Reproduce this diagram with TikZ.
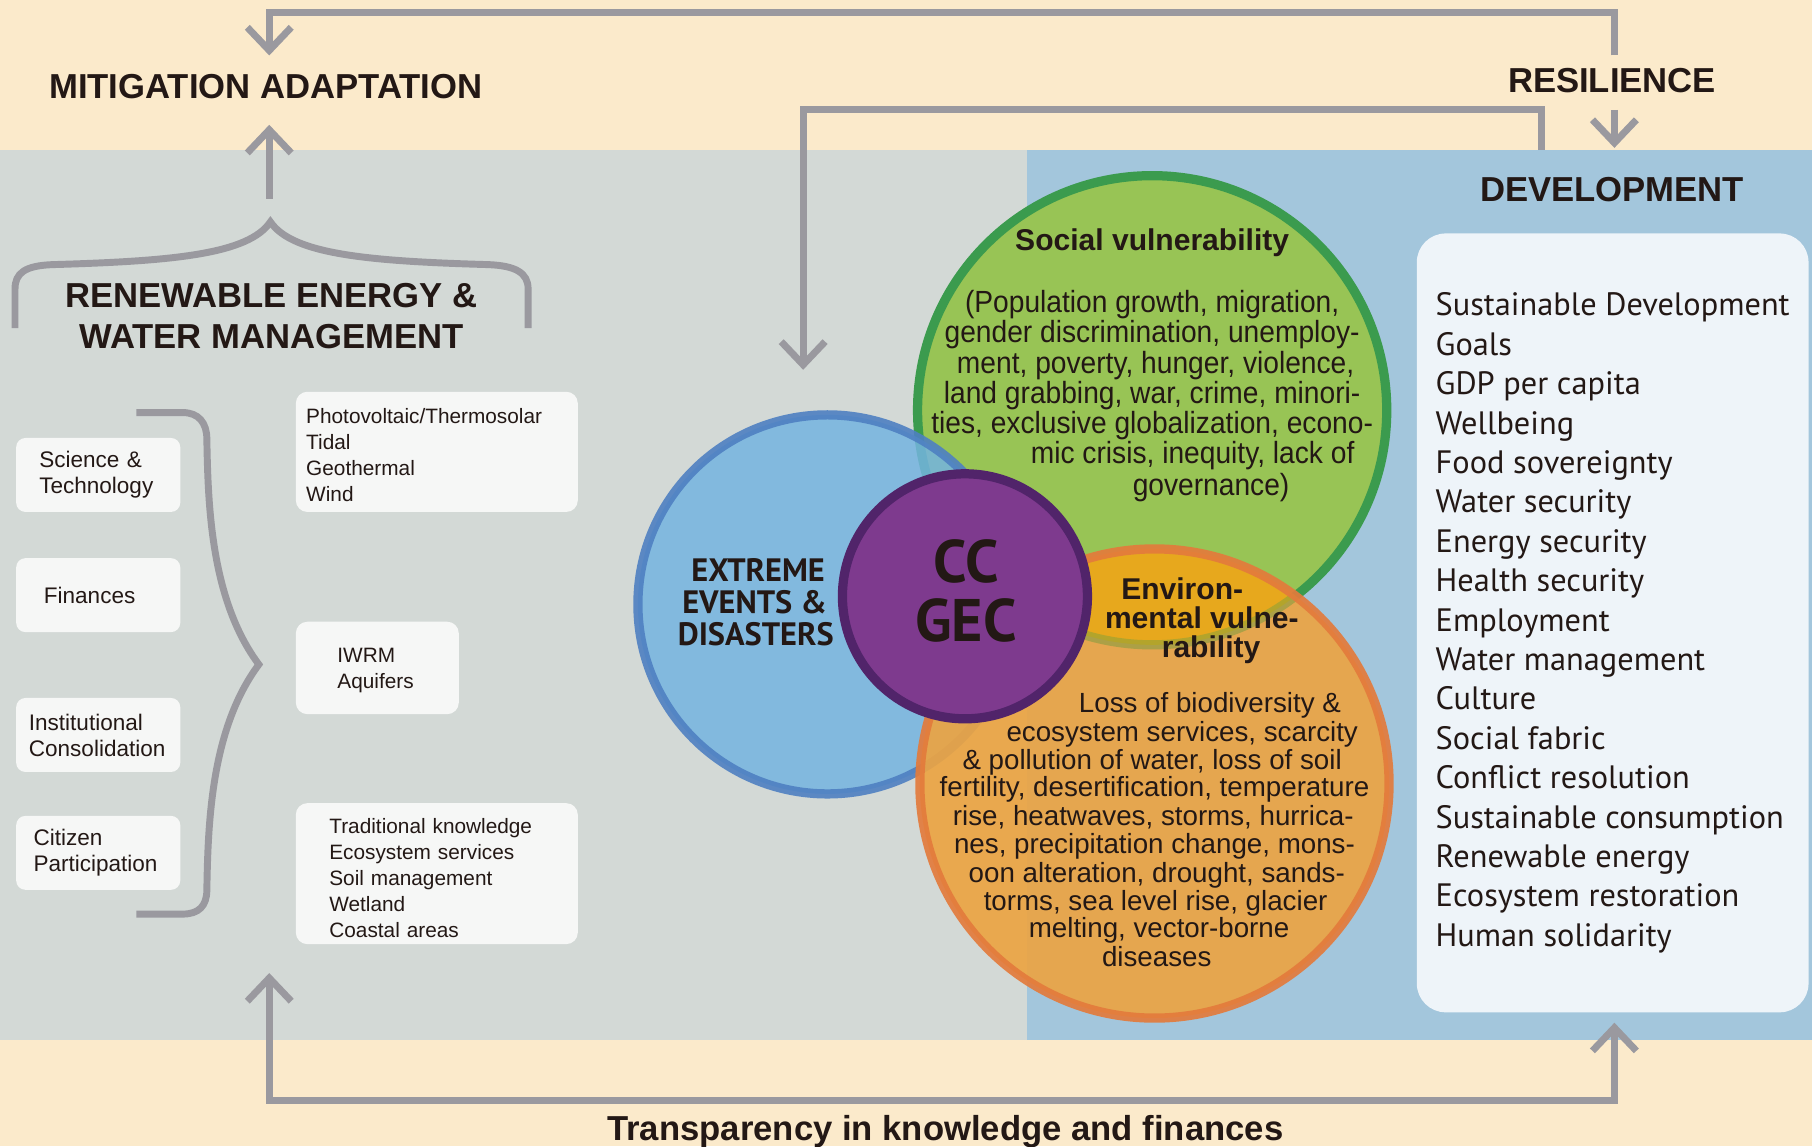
\documentclass[tikz,border=0pt]{standalone}
\usepackage{fontspec}
\setmainfont{Liberation Sans}
\newfontfamily\myr{PT Sans}
\newfontfamily\socf[FakeStretch=0.92]{Liberation Sans}
\usetikzlibrary{arrows.meta}
\definecolor{beige}{HTML}{FBEACB}
\definecolor{graybg}{HTML}{D3D9D6}
\definecolor{bluebg}{HTML}{A3C6DC}
\definecolor{arrowgray}{HTML}{9A999F}
\definecolor{boxfill}{HTML}{F6F7F6}
\definecolor{devfill}{HTML}{EEF4F9}
\definecolor{txt}{HTML}{231815}
\definecolor{cblue}{HTML}{74B4E0}
\definecolor{cblueb}{HTML}{4E80C2}
\definecolor{cgreen}{HTML}{98C455}
\definecolor{cgreenb}{HTML}{3B9B4E}
\definecolor{corange}{HTML}{EBA443}
\definecolor{coranb}{HTML}{E37B3C}
\definecolor{cyellow}{HTML}{E8A91A}
\definecolor{cpurple}{HTML}{7E3A8E}
\definecolor{cpurpleb}{HTML}{51246A}
\begin{document}
\begin{tikzpicture}[x=1pt,y=-1pt,
  >={Straight Barb[length=20pt,width=38pt]},
  every node/.style={text=txt, inner sep=0pt, outer sep=0pt},
  flow/.style={draw=arrowgray, line width=6pt},
  bracepath/.style={draw=arrowgray, line width=6pt},
  circ/.style={circle, line width=8pt, inner sep=0pt, outer sep=0pt},
  ttl/.style={font=\bfseries\fontsize{30}{30}\selectfont, anchor=base},
  lbox/.style={rounded corners=8pt, fill=boxfill, minimum width=142pt, minimum height=64pt, align=left, inner xsep=#1, text width=142pt-2*#1, font=\fontsize{19.5}{22.5}\selectfont},
  mbox/.style 2 args={rounded corners=10pt, fill=boxfill, align=left, minimum width=#2, inner xsep=#1, text width=#2-2*#1, font=\fontsize{18}{22.4}\selectfont},
  devbox/.style={rounded corners=25pt, fill=devfill, minimum width=339pt, minimum height=674pt, align=left, font=\myr\fontsize{28}{34.1}\selectfont},
  socline/.style={anchor=base, font=\socf\fontsize{26.5}{26.5}\selectfont},
  envline/.style={anchor=base, font=\fontsize{24}{24}\selectfont},
  envttl/.style={anchor=base, font=\bfseries\fontsize{26}{26}\selectfont},
  extl/.style={anchor=base, font=\myr\bfseries\fontsize{28}{28}\selectfont},
  ccl/.style={anchor=base, font=\myr\bfseries\fontsize{52}{52}\selectfont}
]
\useasboundingbox (0,0) rectangle (1568,992);
% backgrounds
\fill[beige] (0,0) rectangle (1568,992);
\fill[graybg] (0,130) rectangle (889,900);
\fill[bluebg] (889,130) rectangle (1568,900);

% circles
\node[circ, fill=cgreen, draw=cgreenb, minimum size=406pt] (green) at (997,355) {};
\node[circ, fill=cblue, fill opacity=0.85, draw=cblueb, draw opacity=0.9, minimum size=328pt] (blue) at (716,523) {};
\node[circ, fill=corange, fill opacity=0.92, minimum size=406pt] (orange) at (999,678) {};
\begin{scope}
  \clip (green.center) circle[radius=203pt];
  \fill[cyellow, opacity=0.92] (orange.center) circle[radius=203pt];
\end{scope}
\begin{scope}
  \clip (orange.center) circle[radius=203pt];
  \draw[cgreenb, line width=8pt, opacity=0.3] (green.center) circle[radius=203pt];
\end{scope}
\draw[coranb, line width=8pt, opacity=0.92] (orange.center) circle[radius=203pt];
\node[circ, fill=cpurple, draw=cpurpleb, minimum size=212pt] (cc) at (835,516) {};

% circle texts
\node[envttl] (sv) at (997,217) {Social vulnerability};
\foreach \i/\x/\y/\t in {
  1/997/261/{(Population growth, migration,},
  2/997/287/{gender discrimination, unemploy-},
  3/1000/314/{ment, poverty, hunger, violence,},
  4/997/340/{land grabbing, war, crime, minori-},
  5/997/366/{ties, exclusive globalization, econo-},
  6/1032/392/{mic crisis, inequity, lack of},
  7/1048/419/{governance)}}
  \node[socline] (s\i) at (\x,\y+9.5) {\t};

\node[envttl] (ev1) at (1023,519) {Environ-};
\node[envttl] (ev2) at (1040,544) {mental vulne-};
\node[envttl] (ev3) at (1048,569) {rability};
\foreach \i/\x/\y/\t in {
  1/1047/608/{Loss of biodiversity \&},
  2/1023/633/{ecosystem services, scarcity},
  3/997/657/{\& pollution of water, loss of soil},
  4/999/681/{fertility, desertification, temperature},
  5/998/706/{rise, heatwaves, storms, hurrica-},
  6/999/730/{nes, precipitation change, mons-},
  7/1001/755/{oon alteration, drought, sands-},
  8/1000/779/{torms, sea level rise, glacier},
  9/1003/803/{melting, vector-borne},
  10/1001/828/{diseases}}
  \node[envline] (e\i) at (\x,\y+8.5) {\t};

\node[extl] (x1) at (656,503) {EXTREME};
\node[extl] (x2) at (653,531) {EVENTS \&};
\node[extl] (x3) at (654,559) {DISASTERS};
\node[ccl] (cc1) at (836,504) {CC};
\node[ccl] (cc2) at (836,555) {GEC};

% titles
\node[ttl] (mit) at (230,85) {MITIGATION ADAPTATION};
\node[ttl] (res) at (1395,80) {RESILIENCE};
\node[ttl] (dev) at (1395,174) {DEVELOPMENT};
\node[ttl] (ren1) at (235,266) {RENEWABLE ENERGY \&};
\node[ttl] (ren2) at (235,302) {WATER MANAGEMENT};
\node[ttl] (trans) at (818,987) {Transparency in knowledge and finances};

% left boxes
\node[lbox=20pt] (sci) at (85,411) {Science \&\\Technology};
\node[lbox=24pt] (fin) at (85,515) {Finances};
\node[lbox=11pt] (inst) at (85,636) {Institutional\\Consolidation};
\node[lbox=15pt] (cit) at (85,738) {Citizen\\Participation};

% middle boxes
\node[mbox={9pt}{244pt}, minimum height=104pt] (pv) at (378,391) {\rule{0pt}{19pt}Photovoltaic/Thermosolar\\Tidal\\Geothermal\\Wind};
\node[mbox={36pt}{141pt}, minimum height=80pt] (iw) at (326.5,578) {\rule{0pt}{17pt}IWRM\\Aquifers};
\node[mbox={29pt}{244pt}, minimum height=122pt] (trad) at (378,756) {\rule{0pt}{21pt}Traditional knowledge\\Ecosystem services\\Soil management\\Wetland\\Coastal areas};

% development list
\node[devbox] (devlist) at (1395.5,539) {Sustainable Development\\Goals\\GDP per capita\\Wellbeing\\Food sovereignty\\Water security\\Energy security\\Health security\\Employment\\Water management\\Culture\\Social fabric\\Conflict resolution\\Sustainable consumption\\Renewable energy\\Ecosystem restoration\\Human solidarity};

% braces
\path[bracepath] (13,284) -- (13,250) .. controls (13,236) and (22,230) .. (45,229)
  .. controls (150,226) and (215,220) .. (234,192)
  .. controls (253,220) and (318,226) .. (423,229)
  .. controls (446,230) and (457,236) .. (457,250) -- (457,284);
\path[bracepath] (118,357) -- (158,357) .. controls (172,357) and (179,366) .. (179,380)
  .. controls (180,440) and (183,520) .. (224,575)
  .. controls (183,630) and (180,710) .. (179,770)
  .. controls (179,784) and (172,791) .. (158,791) -- (118,791);

% connector coordinates
\coordinate (resUp) at (1397,48);
\coordinate (mitIn) at (233,48);
\coordinate (braceTop) at (233,172);
\coordinate (mitOut) at (233,108);
\coordinate (resOut) at (1397,95);
\coordinate (devIn) at (1397,128);
\coordinate (devUp) at (1334,130);
\coordinate (eventsIn) at (695,320);
\coordinate (leftIn) at (233,842);
\coordinate (devBot) at (1397,885);

% connectors
\draw[flow,->] (resUp) -- (1397,11) -- (233,11) -- (mitIn);
\draw[flow,->] (braceTop) -- (mitOut);
\draw[flow,->] (resOut) -- (devIn);
\draw[flow,->] (devUp) -- (1334,95) -- (695,95) -- (eventsIn);
\draw[flow,<->] (leftIn) -- (233,952) -- (1397,952) -- (devBot);
\end{tikzpicture}
\end{document}
